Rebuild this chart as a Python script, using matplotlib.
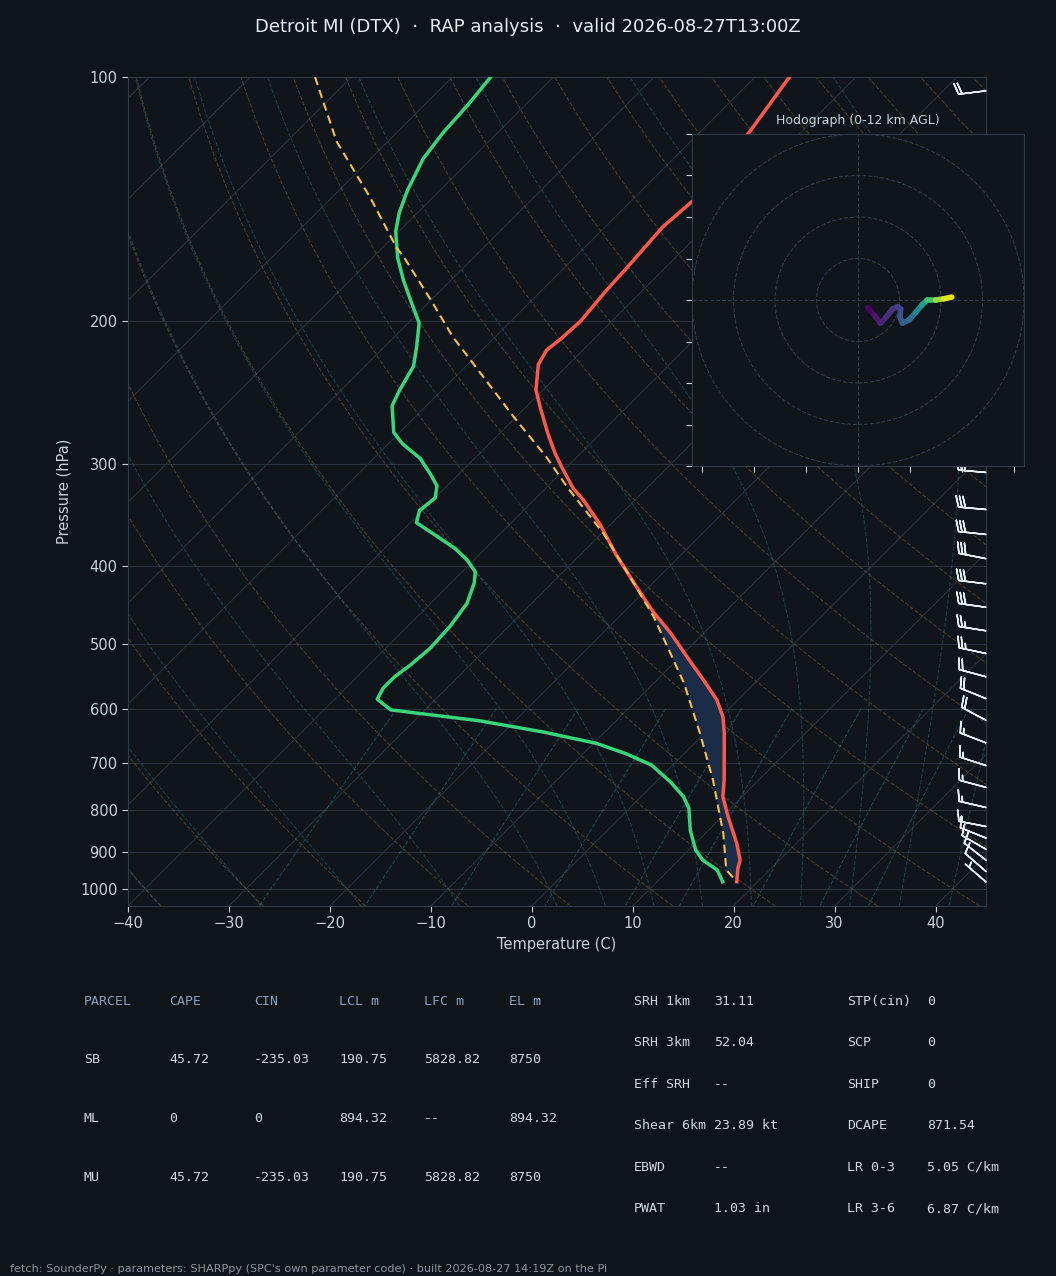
import numpy as np
import matplotlib
matplotlib.use("Agg")
import matplotlib.pyplot as plt
from matplotlib.transforms import Affine2D
from matplotlib.collections import LineCollection
from matplotlib.patches import Circle
from matplotlib.ticker import NullLocator

# ---- sounding ----
temp_p = [100, 117, 142, 153, 172, 183, 200, 210, 217, 226, 243, 255, 275, 291, 303, 321, 332,
          356, 388, 425, 456, 484, 525, 551, 585, 614, 644, 735, 770, 815, 879, 922, 944, 980]
temp_c = [-56.6, -55.1, -53.9, -54.3, -53.8, -53.6, -53.1, -53.3, -53.6, -53.0, -50.7, -48.6,
          -45.2, -42.5, -40.4, -37.3, -35.1, -31.0, -26.4, -21.2, -17.1, -13.3, -8.5, -5.6,
          -2.1, 0.2, 2.0, 6.6, 8.1, 10.6, 14.1, 16.1, 16.7, 17.9]

dwpt_p = [100, 108, 117, 126, 138, 147, 155, 167, 178, 190, 201, 215, 227, 243, 254, 274, 283,
          295, 308, 319, 330, 342, 354, 368, 381, 394, 407, 420, 445, 475, 506, 530, 548, 566,
          584, 602, 621, 641, 662, 682, 704, 738, 770, 796, 847, 896, 922, 948, 980]
dwpt_c = [-86.2, -85.7, -85.4, -84.8, -83.2, -81.8, -80.3, -77.5, -74.7, -71.6, -68.9, -66.8,
          -65.2, -64.2, -63.4, -60.6, -58.6, -55.4, -52.9, -51.0, -50.0, -50.3, -49.4, -46.0,
          -43.0, -40.6, -38.7, -37.7, -36.4, -35.8, -35.6, -35.9, -36.3, -36.3, -35.8, -33.4,
          -23.5, -16.1, -9.7, -5.7, -2.1, 1.4, 4.2, 5.9, 8.2, 10.7, 12.4, 14.8, 16.5]

parcel_p = [100, 120, 141, 162, 168, 188, 209, 223, 262, 294, 321, 365, 401, 462, 558, 644,
            735, 855, 948, 980]
parcel_c = [-103.6, -95.1, -86.1, -78.7, -76.5, -70.1, -64.2, -60.2, -50.3, -43.0, -37.8,
            -29.8, -24.5, -16.6, -7.0, -0.4, 5.5, 11.8, 15.7, 17.9]

barb_p = [104, 307, 341, 366, 392, 421, 450, 481, 513, 548, 583, 620, 661, 705, 750, 794,
          838, 866, 894, 922, 952, 981]
barb_spd_kt = [20, 30, 30, 30, 30, 30, 30, 25, 25, 20, 20, 20, 15, 15, 15, 15, 15, 10, 10,
               10, 10, 5]
barb_dir = [263, 275, 275, 276, 281, 277, 278, 279, 282, 285, 292, 298, 291, 288, 285, 283,
            281, 292, 300, 308, 311, 311]

hodo_z_km = [0, 0.5, 1.0, 1.4, 1.8, 2.1, 2.4, 2.8, 3.2, 3.9, 4.8, 6.0, 7.5, 9.5, 11.0, 12.0]
hodo_u = [2.3, 3.9, 5.4, 6.7, 8.3, 9.5, 10.3, 10.1, 10.7, 12.3, 13.9, 15.4, 16.7, 18.7, 20.7, 22.6]
hodo_v = [-1.8, -3.6, -5.6, -4.2, -2.2, -1.6, -2.2, -4.0, -5.6, -4.8, -3.0, -1.2, 0.0, 0.0, 0.3, 0.7]

title = "Detroit MI (DTX)  \u00b7  RAP analysis  \u00b7  valid 2026-08-27T13:00Z"
parcel_cols = ["PARCEL", "CAPE", "CIN", "LCL m", "LFC m", "EL m"]
parcel_rows = [["SB", "45.72", "-235.03", "190.75", "5828.82", "8750"],
               ["ML", "0", "0", "894.32", "--", "894.32"],
               ["MU", "45.72", "-235.03", "190.75", "5828.82", "8750"]]
params_a = [("SRH 1km", "31.11"), ("SRH 3km", "52.04"), ("Eff SRH", "--"),
            ("Shear 6km", "23.89 kt"), ("EBWD", "--"), ("PWAT", "1.03 in")]
params_b = [("STP(cin)", "0"), ("SCP", "0"), ("SHIP", "0"),
            ("DCAPE", "871.54"), ("LR 0-3", "5.05 C/km"), ("LR 3-6", "6.87 C/km")]
footer = ("fetch: SounderPy \u00b7 parameters: SHARPpy (SPC's own parameter code) \u00b7 "
          "built 2026-08-27 14:19Z on the Pi")

BG = "#0f141b"
AXBG = "#10151c"
GRID = "#29313c"
SPINE = "#303a47"
TXT = "#c9d1d9"
W, H = 1056, 1276

fig = plt.figure(figsize=(W / 100, H / 100), dpi=100, facecolor=BG)
ax = fig.add_axes([128 / W, 1 - 906 / H, 858 / W, 829 / H], facecolor=AXBG)
ax.set_yscale("log")
ax.set_xlim(-40, 45)
ax.set_ylim(1050, 100)

# 45 degree skew in pixel space
k = 829 / 858
skew = ax.transScale + ax.transLimits + Affine2D(np.array([[1, k, 0], [0, 1, 0], [0, 0, 1.0]])) + ax.transAxes

# isotherms
for t in range(-130, 50, 10):
    ax.plot([t, t], [1050, 100], transform=skew, color=GRID, lw=0.8, zorder=1)

# dry adiabats
p_line = np.linspace(1050, 100, 80)
theta = np.arange(-40, 241, 10) + 273.15
dry = theta[None, :] * (p_line[:, None] / 1000.0) ** 0.2857 - 273.15
ax.plot(dry, p_line, transform=skew, color="#7a6444", alpha=0.5, lw=0.8, ls="--", zorder=1)

# moist adiabats
RD, CP, LV, EPS = 287.04, 1005.7, 2.501e6, 0.622


def dtdp(t, p):
    es = 6.112 * np.exp(17.67 * (t - 273.15) / (t - 29.65))
    rs = EPS * es / (p - es)
    return (RD * t + LV * rs) / (CP + LV * LV * rs * EPS / (RD * t * t)) / p


def rk4(t, p0, p1):
    h = p1 - p0
    k1 = dtdp(t, p0)
    k2 = dtdp(t + h * k1 / 2, p0 + h / 2)
    k3 = dtdp(t + h * k2 / 2, p0 + h / 2)
    k4 = dtdp(t + h * k3, p1)
    return t + h * (k1 + 2 * k2 + 2 * k3 + k4) / 6


p_grid = np.arange(1050, 99, -5.0)
i0 = int(np.argmin(np.abs(p_grid - 1000)))
t0 = np.concatenate((np.arange(-40, 0, 10), np.arange(0, 61, 5))) + 273.15
moist = np.empty((len(p_grid), len(t0)))
moist[i0] = t0
for i in range(i0, len(p_grid) - 1):
    moist[i + 1] = rk4(moist[i], p_grid[i], p_grid[i + 1])
for i in range(i0, 0, -1):
    moist[i - 1] = rk4(moist[i], p_grid[i], p_grid[i - 1])
ax.plot(moist - 273.15, p_grid, transform=skew, color="#356a77", alpha=0.45, lw=0.8, ls="--", zorder=1)

# mixing ratio lines
w_mix = np.array([0.0004, 0.001, 0.002, 0.004, 0.007, 0.01, 0.016, 0.024, 0.032])
p_mix = np.linspace(600, 1050, 40)
e = p_mix[:, None] * w_mix[None, :] / (EPS + w_mix[None, :])
le = np.log(e / 6.112)
td_mix = 243.5 * le / (17.67 - le)
ax.plot(td_mix, p_mix, transform=skew, color="#3a7a86", alpha=0.45, lw=0.8, ls="--", zorder=1)

# CIN shading between parcel and environment
tp, tc = np.array(temp_p), np.array(temp_c)
pp, pc = np.array(parcel_p), np.array(parcel_c)
m1, m2 = tp >= 450, pp >= 450
ax.fill(np.concatenate([tc[m1], pc[m2][::-1]]), np.concatenate([tp[m1], pp[m2][::-1]]),
        transform=skew, color="#1b2c48", lw=0, zorder=2)

ax.plot(temp_c, temp_p, transform=skew, color="#fa5a4b", lw=2.5, zorder=3)
ax.plot(dwpt_c, dwpt_p, transform=skew, color="#3bd47a", lw=2.5, zorder=3)
ax.plot(parcel_c, parcel_p, transform=skew, color="#f2c14e", lw=1.5, ls=(0, (4, 2.5)), zorder=3)

# wind barbs on the right edge
spd = np.array(barb_spd_kt, dtype=float)
d = np.deg2rad(barb_dir)
ax.barbs(np.ones(len(barb_p)), barb_p, -spd * np.sin(d), -spd * np.cos(d),
         transform=ax.get_yaxis_transform(), length=6.3, color="#e6edf3",
         linewidth=1.1, clip_on=False, zorder=4)

yt = [100, 200, 300, 400, 500, 600, 700, 800, 900, 1000]
ax.set_yticks(yt)
ax.set_yticklabels([str(v) for v in yt])
ax.yaxis.set_minor_locator(NullLocator())
ax.set_xticks(range(-40, 41, 10))
ax.yaxis.grid(True, color=GRID, lw=0.8)
ax.set_axisbelow(True)
ax.tick_params(colors=TXT, labelsize=10.5, length=4, direction="out")
for s in ax.spines.values():
    s.set_color(SPINE)
ax.set_xlabel("Temperature (C)", color=TXT, fontsize=10.5)
ax.set_ylabel("Pressure (hPa)", color=TXT, fontsize=10.5, labelpad=6)
ax.set_xlim(-40, 45)
ax.set_ylim(1050, 100)

# hodograph inset
hax = fig.add_axes([692 / W, 1 - 466 / H, 332 / W, 332 / H], facecolor=AXBG)
hax.set_xlim(-40, 40)
hax.set_ylim(-40, 40)
for r in (10, 20, 30, 40):
    hax.add_patch(Circle((0, 0), r, fill=False, ls="--", lw=0.8, color=SPINE))
hax.axhline(0, ls="--", lw=0.8, color=SPINE)
hax.axvline(0, ls="--", lw=0.8, color=SPINE)
pts = np.column_stack([hodo_u, hodo_v])
segs = np.stack([pts[:-1], pts[1:]], axis=1)
zmid = (np.array(hodo_z_km[:-1]) + np.array(hodo_z_km[1:])) / 2
lc = LineCollection(segs, cmap="viridis", norm=plt.Normalize(0, 12), linewidths=4, capstyle="round")
lc.set_array(zmid)
hax.add_collection(lc)
hax.set_xticks(np.arange(-37.5, 40, 12.5))
hax.set_yticks(range(-40, 41, 10))
hax.tick_params(colors=TXT, length=4, direction="out", labelbottom=False, labelleft=False)
for s in hax.spines.values():
    s.set_color(SPINE)
hax.set_title("Hodograph (0-12 km AGL)", color=TXT, fontsize=9, pad=7)

fig.text(0.5, 1 - 27 / H, title, ha="center", va="center", fontsize=13, color="#e6edf3")

# parameter table
mono = "DejaVu Sans Mono"
col_x = [84, 169, 254, 339, 424, 509]
kw = dict(fontsize=9.5, family=mono, va="center_baseline")
for x, c in zip(col_x, parcel_cols):
    fig.text(x / W, 1 - 1000 / H, c, color="#8ea0b8", **kw)
for row, y in zip(parcel_rows, [1058, 1117, 1176]):
    for x, c in zip(col_x, row):
        fig.text(x / W, 1 - y / H, c, color="#d0d7de", **kw)
for i, ((la, va), (lb, vb)) in enumerate(zip(params_a, params_b)):
    y = 1 - (1000 + i * 41.4) / H
    fig.text(634 / W, y, la, color="#d0d7de", **kw)
    fig.text(714 / W, y, va, color="#d0d7de", **kw)
    fig.text(847 / W, y, lb, color="#d0d7de", **kw)
    fig.text(927 / W, y, vb, color="#d0d7de", **kw)

fig.text(10 / W, 1 - 1269 / H, footer, fontsize=8.1, color="#8b949e", va="center")

fig.savefig("out.png", dpi=100, facecolor=BG)
